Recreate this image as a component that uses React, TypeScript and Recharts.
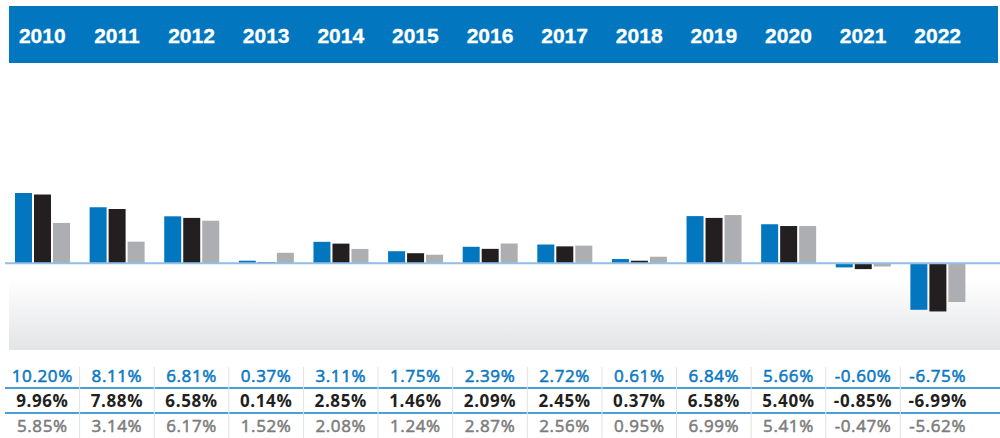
import React from "react";
import { BarChart, Bar, XAxis, YAxis, ReferenceLine } from "recharts";

const years = ["2010", "2011", "2012", "2013", "2014", "2015", "2016", "2017", "2018", "2019", "2020", "2021", "2022"];
const fundReturns = [10.2, 8.11, 6.81, 0.37, 3.11, 1.75, 2.39, 2.72, 0.61, 6.84, 5.66, -0.6, -6.75];
const indexReturns = [9.96, 7.88, 6.58, 0.14, 2.85, 1.46, 2.09, 2.45, 0.37, 6.58, 5.4, -0.85, -6.99];
const peerReturns = [5.85, 3.14, 6.17, 1.52, 2.08, 1.24, 2.87, 2.56, 0.95, 6.99, 5.41, -0.47, -5.62];

const data = years.map((year, i) => ({
  year,
  fund: fundReturns[i],
  index: indexReturns[i],
  peer: peerReturns[i],
}));

const BLUE = "#0277c0";
const BLACK = "#231f20";
const GREY = "#adaeb1";

const PLOT_LEFT = 5;
const PAD_RIGHT = 25;
const WIDTH = 1000;
const BAND = (WIDTH - PLOT_LEFT - PAD_RIGHT) / years.length;

const fmt = (v: number) => `${v.toFixed(2)}%`;

function YearTick(props: any) {
  const { x, payload } = props;
  return (
    <text
      x={x}
      y={43}
      textAnchor="middle"
      fill="#fff"
      stroke="#fff"
      strokeWidth={0.3}
      fontFamily="'Liberation Sans', Arial, sans-serif"
      fontWeight="bold"
      fontSize={21}
    >
      {payload.value}
    </text>
  );
}

// rows 1 and 3 are a medium weight in the original, so thicken regular text a little
function rowTick(values: number[], baseline: number, color: string, bold: boolean, divider: boolean) {
  return (props: any) => {
    const { x, index } = props;
    return (
      <g>
        {divider && index > 0 && (
          <line x1={x - BAND / 2} x2={x - BAND / 2} y1={367} y2={438} stroke="#e2e2e2" strokeWidth={1} />
        )}
        <text
          x={x}
          y={baseline}
          textAnchor="middle"
          fill={color}
          stroke={bold ? "none" : color}
          strokeWidth={bold ? 0 : 0.55}
          fontFamily="'Open Sans', sans-serif"
          fontWeight={bold ? 700 : 400}
          fontSize={17}
          letterSpacing={0.6}
        >
          {fmt(values[index])}
        </text>
      </g>
    );
  };
}

export default function App() {
  return (
    <div style={{ position: "absolute", left: 0, top: 0, width: WIDTH, height: 438, background: "#fff", overflow: "hidden" }}>
      <div style={{ position: "absolute", left: 9, top: 6, width: 989, height: 57, background: BLUE }} />
      <div
        style={{
          position: "absolute",
          left: 9,
          top: 263,
          width: 991,
          height: 87,
          background: "linear-gradient(#ffffff 0%, #ffffff 18%, #e3e4e6 100%)",
        }}
      />
      <div style={{ position: "absolute", left: 0, top: 0 }}>
        <BarChart
          width={WIDTH}
          height={438}
          data={data}
          margin={{ top: 0, right: 0, left: PLOT_LEFT, bottom: 0 }}
          barSize={17}
          barGap={2}
        >
          <XAxis
            xAxisId="year"
            dataKey="year"
            orientation="top"
            height={84}
            axisLine={false}
            tickLine={false}
            interval={0}
            padding={{ left: 0, right: PAD_RIGHT }}
            tick={YearTick}
          />
          <XAxis
            xAxisId="r1"
            dataKey="year"
            orientation="bottom"
            height={42}
            axisLine={false}
            tickLine={false}
            interval={0}
            padding={{ left: 0, right: PAD_RIGHT }}
            tick={rowTick(fundReturns, 382, "#0a79c3", false, true)}
          />
          <XAxis
            xAxisId="r2"
            dataKey="year"
            orientation="bottom"
            height={25}
            axisLine={{ stroke: "#4a9fd9", strokeWidth: 2 }}
            tickLine={false}
            interval={0}
            padding={{ left: 0, right: PAD_RIGHT }}
            tick={rowTick(indexReturns, 407, BLACK, true, false)}
          />
          <XAxis
            xAxisId="r3"
            dataKey="year"
            orientation="bottom"
            height={25}
            axisLine={{ stroke: "#4a9fd9", strokeWidth: 2 }}
            tickLine={false}
            interval={0}
            padding={{ left: 0, right: PAD_RIGHT }}
            tick={rowTick(peerReturns, 432, "#7d7d7d", false, false)}
          />
          <YAxis hide domain={[-12, 26]} />
          <Bar xAxisId="year" dataKey="fund" fill={BLUE} isAnimationActive={false} />
          <Bar xAxisId="year" dataKey="index" fill={BLACK} isAnimationActive={false} />
          <Bar xAxisId="year" dataKey="peer" fill={GREY} isAnimationActive={false} />
          <ReferenceLine xAxisId="year" y={0} stroke="#93bfe6" strokeWidth={2} />
        </BarChart>
      </div>
    </div>
  );
}
